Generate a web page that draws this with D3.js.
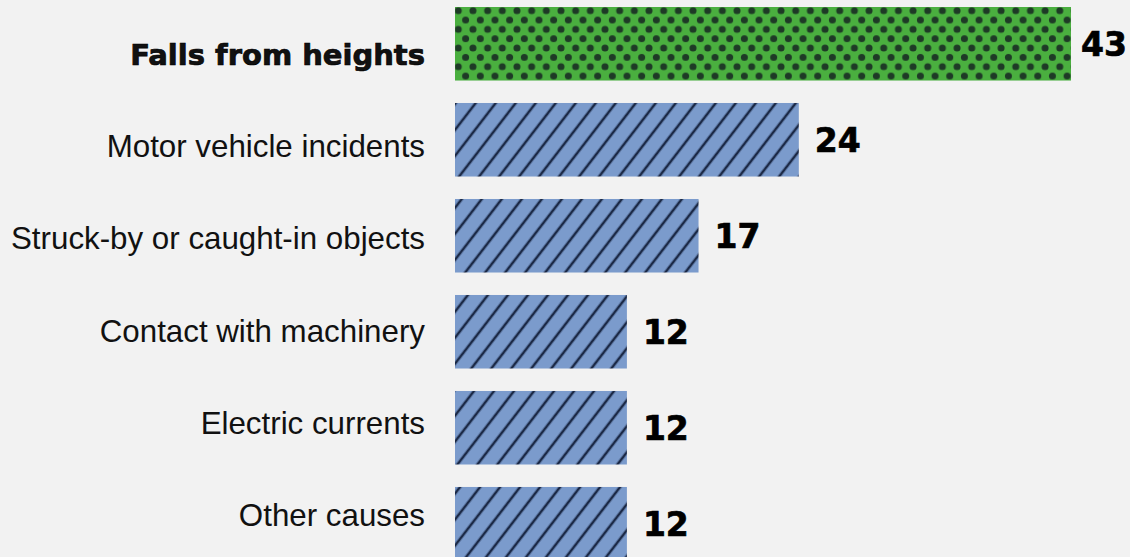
<!DOCTYPE html>
<html>
<head>
<meta charset="utf-8">
<script src="https://cdn.jsdelivr.net/npm/d3@7"></script>
<style>
  html, body { margin: 0; padding: 0; background: #f2f2f2; }
  svg { display: block; }
</style>
</head>
<body>
<script>
const causes = [
  "Falls from heights",
  "Motor vehicle incidents",
  "Struck-by or caught-in objects",
  "Contact with machinery",
  "Electric currents",
  "Other causes",
];
const shares = [43, 24, 17, 12, 12, 12];
const highlight = "Falls from heights";

const width = 1130;
const height = 557;

const rows = causes.map((c, i) => ({ cause: c, value: shares[i] }));

const svg = d3.select("body")
  .append("svg")
  .attr("width", width)
  .attr("height", height)
  .style("background", "#f2f2f2");

const defs = svg.append("defs");

// green dotted pattern
const dw = 14.67, dh = 18.67;
const dots = defs.append("pattern")
  .attr("id", "dots")
  .attr("patternUnits", "userSpaceOnUse")
  .attr("x", 458.3)
  .attr("y", 10.7)
  .attr("width", dw)
  .attr("height", dh);
dots.append("rect").attr("width", dw).attr("height", dh).attr("fill", "#4aaf3f");
[[0, 0], [dw, 0], [0, dh], [dw, dh], [dw / 2, dh / 2]].forEach(p => {
  dots.append("circle").attr("cx", p[0]).attr("cy", p[1]).attr("r", 3.5).attr("fill", "#1e3a26");
});

// blue hatched pattern
const hw = 15.85;
const hatch = defs.append("pattern")
  .attr("id", "hatch")
  .attr("patternUnits", "userSpaceOnUse")
  .attr("width", hw)
  .attr("height", 20)
  .attr("patternTransform", "translate(455,0) rotate(37.6)");
hatch.append("rect").attr("width", hw).attr("height", 20).attr("fill", "#7b9bcc");
hatch.append("rect").attr("x", 0).attr("width", 1.3).attr("height", 20).attr("fill", "#1b2946");
hatch.append("rect").attr("x", hw - 1.3).attr("width", 1.3).attr("height", 20).attr("fill", "#1b2946");

const x = d3.scaleLinear()
  .domain([0, 43])
  .range([455, 1071]);

const y = d3.scaleBand()
  .domain(causes)
  .range([7, 560.5])
  .paddingInner(0.234)
  .paddingOuter(0);

const yLabel = d3.scalePoint()
  .domain(causes)
  .range([65, 526]);

svg.selectAll("rect.bar")
  .data(rows)
  .join("rect")
  .attr("class", "bar")
  .attr("x", x(0))
  .attr("y", d => y(d.cause))
  .attr("width", d => x(d.value) - x(0))
  .attr("height", y.bandwidth())
  .attr("fill", d => d.cause === highlight ? "url(#dots)" : "url(#hatch)");

svg.selectAll("text.label")
  .data(rows)
  .join("text")
  .attr("class", "label")
  .attr("x", 425)
  .attr("y", d => yLabel(d.cause))
  .attr("text-anchor", "end")
  .attr("fill", "#111")
  .attr("stroke", d => d.cause === highlight ? "#000" : "none")
  .attr("stroke-width", 0.7)
  .style("font-family", d => d.cause === highlight ? "'DejaVu Sans'" : "'Liberation Sans', Arial, sans-serif")
  .style("font-weight", d => d.cause === highlight ? "bold" : "normal")
  .style("font-size", d => d.cause === highlight ? "29px" : "31.3px")
  .text(d => d.cause);

svg.selectAll("text.value")
  .data(rows)
  .join("text")
  .attr("class", "value")
  .attr("x", d => x(d.value) + 16)
  .attr("y", d => y(d.cause) + y.bandwidth() / 2 + 12)
  .attr("fill", "#000")
  .attr("stroke", "#000")
  .attr("stroke-width", 0.7)
  .style("font-family", "'DejaVu Sans'")
  .style("font-weight", "bold")
  .style("font-size", "33px")
  .text(d => d.value)
  .each(function () {
    const w = this.getComputedTextLength();
    const cur = +d3.select(this).attr("x");
    if (cur + w > width - 3) d3.select(this).attr("x", width - 3 - w);
  });
</script>
</body>
</html>
